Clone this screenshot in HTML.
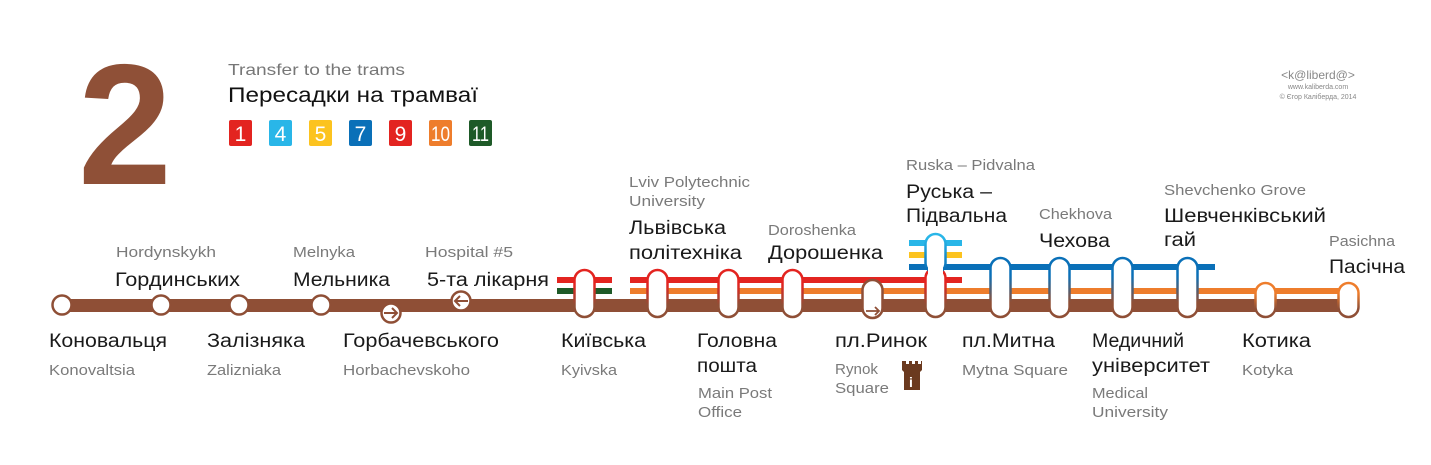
<!DOCTYPE html>
<html><head><meta charset="utf-8"><style>
html,body{margin:0;padding:0;background:#fff}
svg{display:block}
text{font-family:"Liberation Sans","Noto Sans CJK SC",sans-serif}
.b{font-size:19px;fill:#1a1a1a}
.g{font-size:15px;fill:#7a7a7a}
</style></head><body>
<svg width="1431" height="465" viewBox="0 0 1431 465" xmlns="http://www.w3.org/2000/svg">
<defs>
<linearGradient id="gr" x1="0" y1="0" x2="0" y2="1"><stop offset="0.3" stop-color="#e32420"/><stop offset="0.75" stop-color="#8f4f36"/></linearGradient>
<linearGradient id="go" x1="0" y1="0" x2="0" y2="1"><stop offset="0.3" stop-color="#ee7d2c"/><stop offset="0.75" stop-color="#8f4f36"/></linearGradient>
<linearGradient id="gb" x1="0" y1="0" x2="0" y2="1"><stop offset="0.3" stop-color="#0a70b8"/><stop offset="0.75" stop-color="#8f4f36"/></linearGradient>
<linearGradient id="gl" x1="0" y1="0" x2="0" y2="1"><stop offset="0.1" stop-color="#29b6e8"/><stop offset="0.9" stop-color="#0a70b8"/></linearGradient>
</defs>

<text x="78" y="184" font-size="172" font-weight="bold" fill="#8f5037" textLength="94" lengthAdjust="spacingAndGlyphs">2</text>
<text x="228" y="75" font-size="16" fill="#777" textLength="177" lengthAdjust="spacingAndGlyphs">Transfer to the trams</text>
<text x="228" y="102" font-size="21" fill="#111" textLength="250" lengthAdjust="spacingAndGlyphs">Пересадки на трамваї</text>
<g font-size="21" fill="#fff" text-anchor="middle">
<rect x="229" y="120" width="23" height="26" rx="2" fill="#e32420"/><text x="240.5" y="141">1</text>
<rect x="269" y="120" width="23" height="26" rx="2" fill="#29b6e8"/><text x="280.5" y="141">4</text>
<rect x="309" y="120" width="23" height="26" rx="2" fill="#fcc31f"/><text x="320.5" y="141">5</text>
<rect x="349" y="120" width="23" height="26" rx="2" fill="#0a70b8"/><text x="360.5" y="141">7</text>
<rect x="389" y="120" width="23" height="26" rx="2" fill="#e32420"/><text x="400.5" y="141">9</text>
<rect x="429" y="120" width="23" height="26" rx="2" fill="#ee7d2c"/><text x="440.5" y="141" textLength="19" lengthAdjust="spacingAndGlyphs">10</text>
<rect x="469" y="120" width="23" height="26" rx="2" fill="#1e5a28"/><text x="480.5" y="141" textLength="17" lengthAdjust="spacingAndGlyphs">11</text>
</g>

<g text-anchor="middle" fill="#888">
<text x="1318" y="79" font-size="12">&lt;k@liberd@&gt;</text>
<text x="1318" y="89" font-size="7">www.kaliberda.com</text>
<text x="1318" y="99" font-size="7">© Єгор Каліберда, 2014</text>
</g>

<rect x="62" y="299" width="1286" height="13" fill="#8f4f36"/>
<rect x="557" y="277" width="55" height="6" fill="#e32420"/>
<rect x="557" y="288" width="55" height="6" fill="#1e5a28"/>
<rect x="630" y="277" width="332" height="6" fill="#e32420"/>
<rect x="630" y="288" width="710" height="6" fill="#ee7d2c"/>
<rect x="909" y="264" width="306" height="6" fill="#0a70b8"/>
<rect x="909" y="240" width="53" height="6" fill="#29b6e8"/>
<rect x="909" y="252" width="53" height="6" fill="#fcc31f"/>

<g fill="#fff" stroke="#8f4f36" stroke-width="2.5">
<circle cx="62" cy="305" r="9.5"/><circle cx="161" cy="305" r="9.5"/><circle cx="239" cy="305" r="9.5"/><circle cx="321" cy="305" r="9.5"/>
<circle cx="391" cy="313" r="9.5"/><circle cx="461" cy="301" r="9.5"/>
</g>
<g fill="none" stroke="#8f4f36" stroke-width="2">
<path d="M384 313h13M392 308l5 5-5 5"/>
<path d="M468 301h-13M460 296l-5 5 5 5"/>
</g>

<g fill="#fff" stroke-width="2.5">
<rect x="574.5" y="270" width="20" height="47" rx="10" stroke="url(#gr)"/>
<rect x="647.5" y="270" width="20" height="47" rx="10" stroke="url(#gr)"/>
<rect x="718.5" y="270" width="20" height="47" rx="10" stroke="url(#gr)"/>
<rect x="782.5" y="270" width="20" height="47" rx="10" stroke="url(#gr)"/>
<rect x="862.5" y="280" width="20" height="38" rx="10" stroke="#8f4f36"/>
<rect x="925.5" y="268" width="20" height="49" rx="10" stroke="url(#gr)"/>
<rect x="925.5" y="234" width="20" height="39" rx="10" stroke="url(#gl)"/>
<rect x="990.5" y="258" width="20" height="59" rx="10" stroke="url(#gb)"/>
<rect x="1049.5" y="258" width="20" height="59" rx="10" stroke="url(#gb)"/>
<rect x="1112.5" y="258" width="20" height="59" rx="10" stroke="url(#gb)"/>
<rect x="1177.5" y="258" width="20" height="59" rx="10" stroke="url(#gb)"/>
<rect x="1255.5" y="283" width="20" height="34" rx="10" stroke="url(#go)"/>
<rect x="1338.5" y="283" width="20" height="34" rx="10" stroke="url(#go)"/>
</g>
<rect x="928" y="266" width="15" height="9" fill="#fff"/>
<path d="M866 311h13M875 307l4 4-4 4" fill="none" stroke="#8f4f36" stroke-width="1.8"/>

<g fill="#6b3a1f">
<path d="M902 361h4v3h3v-3h3v3h3v-3h3v3h3v-3h1v9l-2 2v18h-16v-18l-2-2z"/>
</g>
<text x="911" y="387" font-size="14" font-weight="bold" fill="#fff" text-anchor="middle">i</text>

<text class="g" x="116" y="257" textLength="100" lengthAdjust="spacingAndGlyphs">Hordynskykh</text>
<text class="b" x="115" y="286" textLength="125" lengthAdjust="spacingAndGlyphs">Гординських</text>
<text class="g" x="293" y="257" textLength="62" lengthAdjust="spacingAndGlyphs">Melnyka</text>
<text class="b" x="293" y="286" textLength="97" lengthAdjust="spacingAndGlyphs">Мельника</text>
<text class="g" x="425" y="257" textLength="88" lengthAdjust="spacingAndGlyphs">Hospital #5</text>
<text class="b" x="427" y="286" textLength="122" lengthAdjust="spacingAndGlyphs">5-та лікарня</text>
<text class="g" x="629" y="187" textLength="121" lengthAdjust="spacingAndGlyphs">Lviv Polytechnic</text>
<text class="g" x="629" y="206" textLength="76" lengthAdjust="spacingAndGlyphs">University</text>
<text class="b" x="629" y="234" textLength="97" lengthAdjust="spacingAndGlyphs">Львівська</text>
<text class="b" x="629" y="259" textLength="113" lengthAdjust="spacingAndGlyphs">політехніка</text>
<text class="g" x="768" y="235" textLength="88" lengthAdjust="spacingAndGlyphs">Doroshenka</text>
<text class="b" x="768" y="259" textLength="115" lengthAdjust="spacingAndGlyphs">Дорошенка</text>
<text class="g" x="906" y="170" textLength="129" lengthAdjust="spacingAndGlyphs">Ruska – Pidvalna</text>
<text class="b" x="906" y="198" textLength="86" lengthAdjust="spacingAndGlyphs">Руська –</text>
<text class="b" x="906" y="222" textLength="101" lengthAdjust="spacingAndGlyphs">Підвальна</text>
<text class="g" x="1039" y="219" textLength="73" lengthAdjust="spacingAndGlyphs">Chekhova</text>
<text class="b" x="1039" y="247" textLength="71" lengthAdjust="spacingAndGlyphs">Чехова</text>
<text class="g" x="1164" y="195" textLength="142" lengthAdjust="spacingAndGlyphs">Shevchenko Grove</text>
<text class="b" x="1164" y="222" textLength="162" lengthAdjust="spacingAndGlyphs">Шевченківський</text>
<text class="b" x="1164" y="246" textLength="32" lengthAdjust="spacingAndGlyphs">гай</text>
<text class="g" x="1329" y="246" textLength="66" lengthAdjust="spacingAndGlyphs">Pasichna</text>
<text class="b" x="1329" y="273" textLength="76" lengthAdjust="spacingAndGlyphs">Пасічна</text>

<text class="b" x="49" y="347" textLength="118" lengthAdjust="spacingAndGlyphs">Коновальця</text>
<text class="g" x="49" y="375" textLength="86" lengthAdjust="spacingAndGlyphs">Konovaltsia</text>
<text class="b" x="207" y="347" textLength="98" lengthAdjust="spacingAndGlyphs">Залізняка</text>
<text class="g" x="207" y="375" textLength="74" lengthAdjust="spacingAndGlyphs">Zalizniaka</text>
<text class="b" x="343" y="347" textLength="156" lengthAdjust="spacingAndGlyphs">Горбачевського</text>
<text class="g" x="343" y="375" textLength="127" lengthAdjust="spacingAndGlyphs">Horbachevskoho</text>
<text class="b" x="561" y="347" textLength="85" lengthAdjust="spacingAndGlyphs">Київська</text>
<text class="g" x="561" y="375" textLength="56" lengthAdjust="spacingAndGlyphs">Kyivska</text>
<text class="b" x="697" y="347" textLength="80" lengthAdjust="spacingAndGlyphs">Головна</text>
<text class="b" x="697" y="372" textLength="60" lengthAdjust="spacingAndGlyphs">пошта</text>
<text class="g" x="698" y="398" textLength="74" lengthAdjust="spacingAndGlyphs">Main Post</text>
<text class="g" x="698" y="417" textLength="44" lengthAdjust="spacingAndGlyphs">Office</text>
<text class="b" x="835" y="347" textLength="92" lengthAdjust="spacingAndGlyphs">пл.Ринок</text>
<text class="g" x="835" y="374" textLength="43" lengthAdjust="spacingAndGlyphs">Rynok</text>
<text class="g" x="835" y="393" textLength="54" lengthAdjust="spacingAndGlyphs">Square</text>
<text class="b" x="962" y="347" textLength="93" lengthAdjust="spacingAndGlyphs">пл.Митна</text>
<text class="g" x="962" y="375" textLength="106" lengthAdjust="spacingAndGlyphs">Mytna Square</text>
<text class="b" x="1092" y="347" textLength="92" lengthAdjust="spacingAndGlyphs">Медичний</text>
<text class="b" x="1092" y="372" textLength="118" lengthAdjust="spacingAndGlyphs">університет</text>
<text class="g" x="1092" y="398" textLength="56" lengthAdjust="spacingAndGlyphs">Medical</text>
<text class="g" x="1092" y="417" textLength="76" lengthAdjust="spacingAndGlyphs">University</text>
<text class="b" x="1242" y="347" textLength="69" lengthAdjust="spacingAndGlyphs">Котика</text>
<text class="g" x="1242" y="375" textLength="51" lengthAdjust="spacingAndGlyphs">Kotyka</text>
</svg>
</body></html>
